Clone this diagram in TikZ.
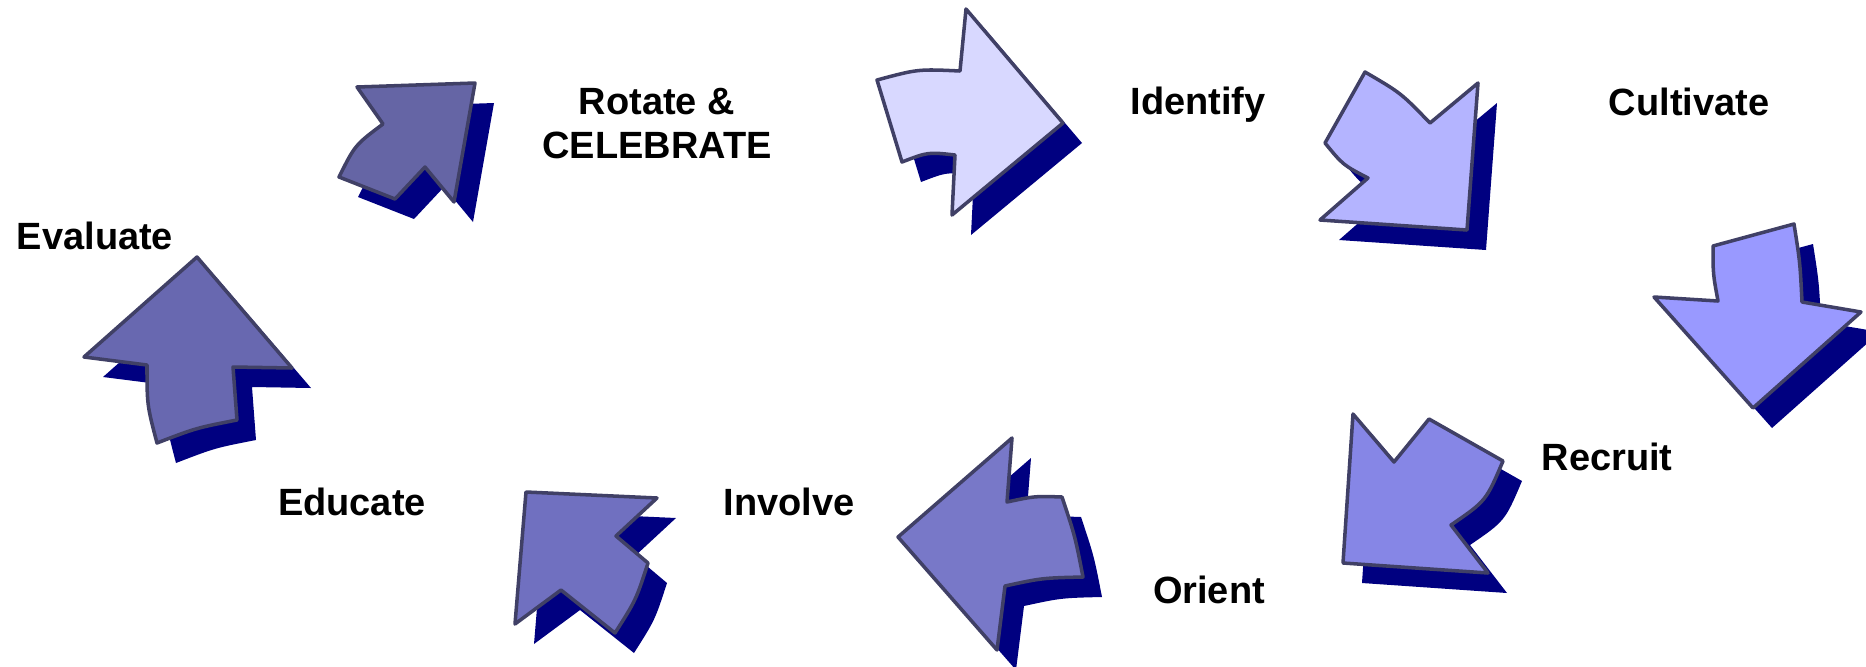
\documentclass[tikz,border=0pt]{standalone}
\usepackage{fontspec}
\setmainfont{Liberation Sans}
\definecolor{shadowc}{HTML}{000080}
\definecolor{edgec}{HTML}{404066}
\definecolor{fa}{HTML}{D8D8FF}
\definecolor{fb}{HTML}{B4B4FF}
\definecolor{fc}{HTML}{9999FF}
\definecolor{fd}{HTML}{8686E6}
\definecolor{fe}{HTML}{7878C8}
\definecolor{ff}{HTML}{7070C0}
\definecolor{fg}{HTML}{6868B0}
\definecolor{fh}{HTML}{6565A5}
\newcommand\arrA{(877,80) .. controls (918,69) .. (960,71) -- (966,9) -- (1063,123) -- (952,215) -- (955,155) .. controls (928,152) .. (902,162) -- cycle}
\newcommand\arrB{(1365,72) .. controls (1401,93) .. (1430,123) -- (1478,83) -- (1467,230) -- (1320,220) -- (1368,178) .. controls (1343,165) .. (1325,143) -- cycle}
\newcommand\arrC{(1713,246) -- (1794,224) .. controls (1800,262) .. (1802,302) -- (1861,312) -- (1753,408) -- (1654,297) -- (1718,301) .. controls (1713,274) .. (1713,246) -- cycle}
\newcommand\arrD{(1353,414) -- (1394,462) -- (1429,419) -- (1503,461) .. controls (1486,501) .. (1451,525) -- (1488,573) -- (1343,563) -- cycle}
\newcommand\arrE{(1012,438) -- (1007,502) .. controls (1035,496) .. (1062,497) .. controls (1075,536) .. (1083,577) .. controls (1042,578) .. (1005,586) -- (997,650) -- (898,537) -- cycle}
\newcommand\arrF{(526,492) -- (657,498) -- (616,536) -- (648,563) .. controls (636,600) .. (615,633) -- (561,590) -- (515,624) -- cycle}
\newcommand\arrG{(197,257) -- (292,368) -- (233,367) -- (237,420) .. controls (196,428) .. (157,443) .. controls (147,405) .. (147,365) -- (84,357) -- cycle}
\newcommand\arrH{(357,87) -- (475,83) -- (454,202) -- (425,167) -- (395,199) -- (339,177) .. controls (355,145) .. (383,124) -- cycle}
\begin{document}
\begin{tikzpicture}[x=0.01cm,y=-0.01cm,
  shad/.style={fill=shadowc,shift={(19,20)}},
  arr/.style={draw=edgec,line width=1pt,line join=round},
  lbl/.style={font=\fontsize{10.8}{12.5}\selectfont\bfseries,text=black,align=center,inner sep=0pt}]
\useasboundingbox (0,0) rectangle (1866,666);
\foreach \p/\c in {\arrA/fa,\arrB/fb,\arrC/fc,\arrD/fd,\arrE/fe,\arrF/ff,\arrG/fg,\arrH/fh}{
  \fill[shad] \p;
  \filldraw[arr,fill=\c] \p;
}
\node[lbl] (rot) at (657,124) {Rotate \&\\CELEBRATE};
\node[lbl] (ide) at (1198,105) {Identify};
\node[lbl] (cul) at (1689,102) {Cultivate};
\node[lbl] (eva) at (95,236) {Evaluate};
\node[lbl] (rec) at (1607,457) {Recruit};
\node[lbl] (edu) at (352,502) {Educate};
\node[lbl] (inv) at (789,502) {Involve};
\node[lbl] (ori) at (1209,590) {Orient};
\end{tikzpicture}
\end{document}
